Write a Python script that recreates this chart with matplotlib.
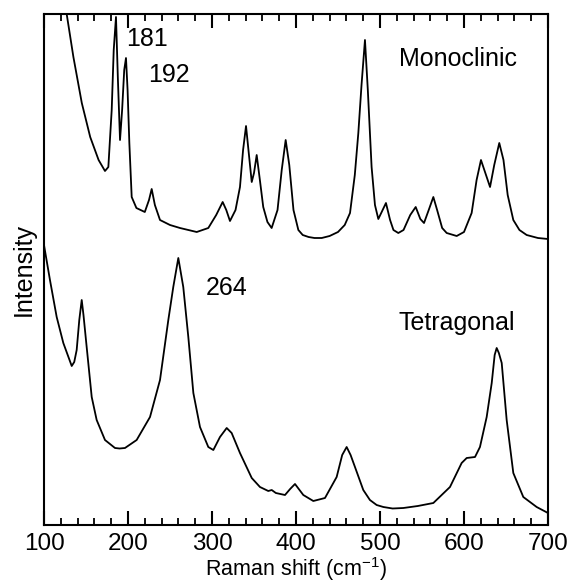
import matplotlib
matplotlib.use("Agg")
import matplotlib.pyplot as plt
from matplotlib.ticker import MultipleLocator

plt.rcParams['font.family'] = ['Liberation Sans', 'DejaVu Sans']
plt.rcParams['mathtext.fontset'] = 'custom'
plt.rcParams['mathtext.rm'] = 'Liberation Sans'
plt.rcParams['mathtext.default'] = 'regular'

# Monoclinic spectrum (Raman shift, intensity in arbitrary units)
mono_x = [125, 127, 135, 145, 155, 165, 172.6, 176.6, 180.6, 183, 185.7, 188, 190.5, 193,
          195.5, 197.6, 199.5, 201.6, 204.4, 210, 220, 225, 228.2, 232, 238.1, 250, 261.9,
          281.8, 295.6, 305, 312.7, 317, 321.4, 328, 333.3, 337, 340.5, 344, 347.3, 350, 353.2, 357,
          361, 366, 371, 378, 383, 387.7, 392, 397, 402.8, 408, 415, 422, 430.6, 440, 450, 458, 464.3, 470,
          474.2, 478, 482.1, 485.5, 490, 494, 498, 502, 507.1, 512, 516, 521.8, 528, 536,
          542.5, 548, 552.4, 558, 563.5, 568, 574, 579.4, 591.3, 600, 609.1, 615, 620.2,
          625, 631, 636, 642, 647, 652, 658.7, 666, 674.6, 688, 700]
mono_y = [523, 511, 468, 422, 388, 365, 354, 358, 415, 475, 508, 445, 385, 415,
          455, 467, 435, 382, 328, 317, 313, 325, 336, 320, 305, 300, 297,
          293, 297, 310, 323, 315, 304, 315, 338, 375, 399, 370, 343, 352, 370, 345,
          318, 303, 297, 315, 355, 385, 360, 315, 295, 290, 288, 287, 287, 289, 293, 300, 312, 350,
          392, 440, 485, 435, 358, 320, 306, 313, 322, 305, 295, 292, 295, 310,
          318, 306, 302, 315, 328, 315, 297, 292, 289, 293, 312, 345, 365,
          353, 338, 360, 382, 365, 330, 305, 295, 290, 287, 286]

# Tetragonal spectrum
tet_x = [100, 101, 107.1, 115.1, 123, 133, 136, 138.9, 142, 144.9, 147, 150.8, 156.8,
         162.7, 172.6, 184.5, 190, 196.4, 210.3, 226.2, 238.1, 248, 253.9, 259.9, 265.8,
         271.8, 277.8, 285.7, 295.6, 301.6, 309.5, 317.5, 323.4, 333.3, 347.3, 357.1,
         367, 371.1, 376, 386.9, 393, 398.8, 408.7, 420.6, 434.5, 448.4, 455, 460.3,
         465, 470.2, 480.1, 488, 496, 504, 515, 527.8, 545, 563.5, 583.3, 597.2, 603.2,
         613.1, 619, 627, 633, 636.5, 638.9, 641.5, 644.9, 650.8, 658.7, 670.6, 686.5, 700]
tet_y = [280, 275, 245, 208, 182, 159, 163, 175, 205, 225, 210, 178, 128,
         105, 85, 77, 76.5, 77, 85, 108, 145, 205, 238, 267, 238,
         188, 132, 98, 78, 75, 88, 97, 92, 72, 47, 38,
         34, 35, 32, 30, 36, 41, 30, 24, 27, 48, 70, 78,
         70, 58, 35, 25, 20, 18, 16.5, 17, 19, 22, 38, 62, 67,
         68, 78, 108, 142, 170, 177, 172, 162, 105, 52, 28, 18, 12]

labels = ["181", "192", "264", "Monoclinic", "Tetragonal"]
label_pos = [(147.5, 39), (169, 74.5), (226.7, 288), (458, 59), (456.7, 323)]

fig = plt.figure(figsize=(5.71, 5.84), dpi=100)
ax = fig.add_axes([44/571, 59/584, 504/571, 511/584])
ax.plot(mono_x, mono_y, color='black', lw=1.3)
ax.plot(tet_x, tet_y, color='black', lw=1.3)
ax.set_xlim(100, 700)
ax.set_ylim(0, 511)

ax.xaxis.set_major_locator(MultipleLocator(100))
ax.xaxis.set_minor_locator(MultipleLocator(20))
ax.tick_params(axis='x', which='major', direction='in', length=10, width=1.5,
               top=True, labelsize=17.5, pad=6)
ax.tick_params(axis='x', which='minor', direction='in', length=5, width=1.3, top=True)
ax.tick_params(axis='y', left=False, labelleft=False)
for s in ax.spines.values():
    s.set_linewidth(1.5)

fig.text(296/571, 1/584, 'Raman shift (cm$^{-1}$)', fontsize=15.5, ha='center', va='bottom')
ax.set_ylabel('Intensity', fontsize=18, labelpad=6)

def px2data(px, py):
    return 100 + (px - 44) / 0.84, 525 - py

for t, (px, py) in zip(labels, label_pos):
    x, y = px2data(px, py)
    ax.text(x, y, t, fontsize=18, ha='center', va='center')

fig.savefig('out.png', dpi=100)
